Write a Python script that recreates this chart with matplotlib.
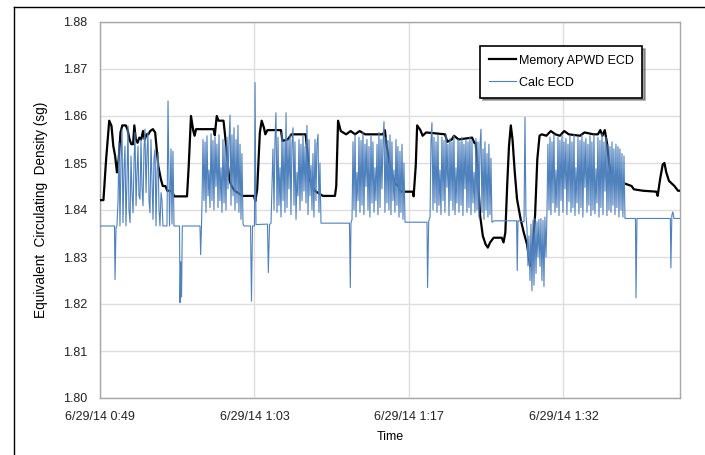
import matplotlib
matplotlib.use("Agg")
import matplotlib.pyplot as plt
import matplotlib.dates as mdates
from matplotlib.lines import Line2D
from matplotlib.ticker import FuncFormatter
import pandas as pd

# ------------------------------------------------------------------------------
# Data (time in minutes after 6/29/14 0:49:05, ECD in sg)
# ------------------------------------------------------------------------------
START = pd.Timestamp("2014-06-29 00:49:05")
TICK_STEP_MIN = 14.4
X_END_MIN = 54.06

mem_t = [0.00, 0.32, 0.57, 0.86, 1.07, 1.24, 1.41, 1.58, 1.74, 1.91, 2.08, 2.41,
         2.58, 2.75, 2.92, 3.08, 3.20, 3.34, 3.50, 3.67, 3.84, 4.01, 4.17, 4.34,
         4.51, 4.68, 4.93, 5.14, 5.26, 5.43, 5.68, 5.85, 6.10, 6.27, 6.52, 6.69,
         6.94, 8.11, 8.27, 8.48, 8.70, 8.82, 8.95, 10.59, 10.70, 10.88, 11.05,
         11.51, 11.63, 11.84, 12.05, 12.26, 12.55, 13.31, 14.35, 14.48, 14.65,
         14.90, 15.07, 15.28, 15.41, 15.61, 16.87, 17.00, 17.50, 17.84, 19.17,
         19.39, 19.60, 20.01, 20.77, 21.90, 22.02, 22.19, 22.44, 22.94, 23.36,
         23.78, 24.20, 24.71, 26.38, 26.55, 26.72, 27.06, 27.47, 27.81, 28.06,
         29.15, 29.23, 29.43, 29.56, 29.86, 30.07, 30.40, 32.16, 32.37, 32.79,
         33.00, 33.42, 34.68, 34.89, 35.01, 35.17, 35.43, 35.68, 35.94, 36.15,
         36.36, 36.69, 37.45, 37.61, 37.78, 37.95, 38.12, 38.29, 38.45, 38.66,
         38.87, 39.21, 39.50, 39.80, 40.09, 40.30, 40.55, 40.76, 40.97, 41.17,
         41.60, 42.02, 42.44, 42.86, 43.27, 43.69, 44.74, 45.16, 45.99, 46.41,
         46.63, 46.83, 47.05, 47.25, 47.46, 47.67, 48.30, 48.72, 49.55, 49.76,
         50.60, 51.86, 51.98, 52.20, 52.45, 52.61, 52.78, 53.03, 53.54, 53.87,
         54.06]
mem_ecd = [1.8421, 1.8421, 1.8508, 1.8590, 1.8579, 1.8536, 1.8515, 1.8480, 1.8508,
           1.8565, 1.8580, 1.8580, 1.8570, 1.8550, 1.8540, 1.8540, 1.8580, 1.8550,
           1.8543, 1.8554, 1.8550, 1.8568, 1.8550, 1.8561, 1.8561, 1.8568, 1.8572,
           1.8565, 1.8536, 1.8494, 1.8465, 1.8451, 1.8451, 1.8441, 1.8441, 1.8439,
           1.8429, 1.8429, 1.8494, 1.8600, 1.8568, 1.8558, 1.8572, 1.8572, 1.8559,
           1.8600, 1.8590, 1.8590, 1.8565, 1.8515, 1.8465, 1.8451, 1.8441, 1.8430,
           1.8430, 1.8419, 1.8444, 1.8565, 1.8590, 1.8575, 1.8561, 1.8570, 1.8570,
           1.8547, 1.8550, 1.8561, 1.8561, 1.8508, 1.8462, 1.8441, 1.8430, 1.8430,
           1.8451, 1.8590, 1.8568, 1.8561, 1.8568, 1.8561, 1.8568, 1.8561, 1.8561,
           1.8570, 1.8536, 1.8487, 1.8458, 1.8451, 1.8439, 1.8439, 1.8429, 1.8494,
           1.8580, 1.8570, 1.8558, 1.8565, 1.8561, 1.8545, 1.8550, 1.8558, 1.8550,
           1.8554, 1.8543, 1.8543, 1.8494, 1.8388, 1.8345, 1.8327, 1.8320, 1.8331,
           1.8341, 1.8341, 1.8331, 1.8352, 1.8451, 1.8536, 1.8580, 1.8550, 1.8480,
           1.8423, 1.8380, 1.8352, 1.8327, 1.8281, 1.8310, 1.8388, 1.8508, 1.8558,
           1.8561, 1.8558, 1.8568, 1.8561, 1.8558, 1.8568, 1.8561, 1.8558, 1.8565,
           1.8561, 1.8561, 1.8570, 1.8558, 1.8570, 1.8543, 1.8497, 1.8469, 1.8465,
           1.8458, 1.8451, 1.8444, 1.8441, 1.8439, 1.8430, 1.8465, 1.8497, 1.8500,
           1.8480, 1.8462, 1.8451, 1.8441, 1.8441]

calc_t = [0.00, 1.35, 1.40, 1.49, 1.58,
          1.68, 1.77, 1.86, 1.96, 2.05, 2.14, 2.24, 2.33, 2.42, 2.52, 2.61, 2.70,
          2.80, 2.89, 2.98, 3.08, 3.17, 3.26, 3.36, 3.45, 3.54, 3.63, 3.73, 3.82,
          3.91, 4.01, 4.10, 4.19, 4.29, 4.38, 4.47, 4.57, 4.66, 4.75, 4.85, 4.94,
          5.03, 5.13, 5.22, 5.31, 5.41, 5.50, 5.59, 5.69, 5.78, 5.87,
          6.24, 6.34, 6.48, 6.62, 6.71, 6.80, 6.90, 7.41, 7.46, 7.52, 7.60, 7.67,
          9.32, 9.38, 9.46,
          9.51, 9.60, 9.69, 9.79, 9.88, 9.97, 10.07, 10.16, 10.25, 10.35, 10.44,
          10.53, 10.62, 10.72, 10.81, 10.90, 11.00, 11.09, 11.18, 11.28, 11.37,
          11.46, 11.56, 11.65, 11.74, 11.84, 11.93, 12.02, 12.12, 12.21, 12.30,
          12.40, 12.49, 12.58, 12.68, 12.77, 12.86, 12.95, 13.05, 13.14, 13.23,
          13.33, 13.42,
          14.03, 14.12, 14.21, 14.40, 14.45, 14.54, 15.61, 15.69, 15.80,
          15.94, 16.03, 16.12, 16.22, 16.31, 16.40, 16.50, 16.59, 16.68, 16.78,
          16.87, 16.96, 17.06, 17.15, 17.24, 17.34, 17.43, 17.52, 17.61, 17.71,
          17.80, 17.89, 17.99, 18.08, 18.17, 18.27, 18.36, 18.45, 18.55, 18.64,
          18.73, 18.83, 18.92, 19.01, 19.11, 19.20, 19.29, 19.39, 19.48, 19.57,
          19.67, 19.76, 19.85, 19.94, 20.04, 20.13, 20.22, 20.32, 20.41, 20.50,
          20.60,
          23.25, 23.33, 23.39,
          23.49, 23.58, 23.67, 23.77, 23.86, 23.95, 24.05, 24.14, 24.23, 24.33,
          24.42, 24.51, 24.60, 24.70, 24.79, 24.88, 24.98, 25.07, 25.16, 25.26,
          25.35, 25.44, 25.54, 25.63, 25.72, 25.82, 25.91, 26.00, 26.10, 26.19,
          26.28, 26.38, 26.47, 26.56, 26.66, 26.75, 26.84, 26.93, 27.03, 27.12,
          27.21, 27.31, 27.40, 27.49, 27.59, 27.68, 27.77, 27.87, 27.96, 28.05,
          28.15, 28.24, 28.33, 28.43,
          30.48, 30.53, 30.64,
          30.76, 30.85, 30.94, 31.04, 31.13, 31.22, 31.32, 31.41, 31.50, 31.59,
          31.69, 31.78, 31.87, 31.97, 32.06, 32.15, 32.25, 32.34, 32.43, 32.53,
          32.62, 32.71, 32.81, 32.90, 32.99, 33.09, 33.18, 33.27, 33.37, 33.46,
          33.55, 33.65, 33.74, 33.83, 33.92, 34.02, 34.11, 34.20, 34.30, 34.39,
          34.48, 34.58, 34.67, 34.76, 34.86, 34.95, 35.04, 35.14, 35.23, 35.32,
          35.42, 35.51, 35.60, 35.70, 35.79, 35.88, 35.98, 36.07, 36.16, 36.25,
          36.35, 36.44, 36.53, 36.72,
          38.83, 38.89, 38.96, 39.52, 39.61, 39.70, 39.80, 39.89, 39.98, 40.08,
          40.17, 40.26, 40.36, 40.45, 40.54, 40.64, 40.73, 40.82, 40.91, 41.01,
          41.10, 41.19, 41.29, 41.38, 41.47, 41.57, 41.66,
          41.75, 41.85, 41.94, 42.03, 42.13, 42.22, 42.31, 42.41, 42.50, 42.59,
          42.69, 42.78, 42.87, 42.97, 43.06, 43.15, 43.24, 43.34, 43.43, 43.52,
          43.62, 43.71, 43.80, 43.90, 43.99, 44.08, 44.18, 44.27, 44.36, 44.46,
          44.55, 44.64, 44.74, 44.83, 44.92, 45.01, 45.11, 45.20, 45.29, 45.39,
          45.48, 45.57, 45.67, 45.76, 45.85, 45.95, 46.04, 46.13, 46.23, 46.32,
          46.41, 46.51, 46.60, 46.69, 46.79, 46.88, 46.97, 47.07, 47.16, 47.25,
          47.35, 47.44, 47.53, 47.63, 47.72, 47.81, 47.90, 48.00, 48.09, 48.18,
          48.28, 48.37, 48.46, 48.56, 48.65, 48.74, 48.84, 48.93,
          49.91, 49.96, 50.05, 53.16, 53.21, 53.30, 53.40, 53.49, 54.06]
calc_ecd = [1.8366, 1.8366, 1.8252, 1.8362, 1.8366,
            1.8420, 1.8543, 1.8366, 1.8510, 1.8572, 1.8373, 1.8490, 1.8536, 1.8366,
            1.8470, 1.8579, 1.8400, 1.8373, 1.8515, 1.8440, 1.8394, 1.8500, 1.8565,
            1.8409, 1.8480, 1.8536, 1.8430, 1.8423, 1.8550, 1.8450, 1.8409, 1.8530,
            1.8572, 1.8437, 1.8520, 1.8565, 1.8420, 1.8394, 1.8550, 1.8460, 1.8380,
            1.8510, 1.8529, 1.8366, 1.8480, 1.8522, 1.8400, 1.8366, 1.8437, 1.8420,
            1.8366,
            1.8366, 1.8632, 1.8366, 1.8530, 1.8370, 1.8525, 1.8366, 1.8366, 1.8203,
            1.8290, 1.8215, 1.8366,
            1.8366, 1.8305, 1.8366,
            1.8420, 1.8550, 1.8420, 1.8545, 1.8395, 1.8558, 1.8430, 1.8485, 1.8405,
            1.8562, 1.8420, 1.8548, 1.8400, 1.8555, 1.8450, 1.8540, 1.8405, 1.8560,
            1.8420, 1.8490, 1.8395, 1.8550, 1.8415, 1.8538, 1.8400, 1.8555, 1.8445,
            1.8545, 1.8602, 1.8410, 1.8560, 1.8430, 1.8575, 1.8400, 1.8550, 1.8415,
            1.8580, 1.8395, 1.8540, 1.8380, 1.8520, 1.8370, 1.8366,
            1.8366, 1.8206, 1.8366, 1.8366, 1.8671, 1.8369, 1.8370, 1.8267, 1.8369,
            1.8372, 1.8450, 1.8530, 1.8400, 1.8550, 1.8607, 1.8395, 1.8555, 1.8410,
            1.8490, 1.8385, 1.8565, 1.8420, 1.8545, 1.8395, 1.8607, 1.8405, 1.8550,
            1.8445, 1.8560, 1.8390, 1.8540, 1.8575, 1.8410, 1.8545, 1.8380, 1.8480,
            1.8430, 1.8550, 1.8400, 1.8540, 1.8420, 1.8560, 1.8440, 1.8535, 1.8415,
            1.8580, 1.8390, 1.8550, 1.8430, 1.8495, 1.8400, 1.8520, 1.8385, 1.8550,
            1.8420, 1.8540, 1.8561, 1.8395, 1.8500, 1.8372,
            1.8372, 1.8235, 1.8372,
            1.8380, 1.8545, 1.8400, 1.8560, 1.8385, 1.8480, 1.8420, 1.8555, 1.8395,
            1.8548, 1.8410, 1.8565, 1.8390, 1.8540, 1.8450, 1.8550, 1.8400, 1.8535,
            1.8385, 1.8558, 1.8415, 1.8545, 1.8395, 1.8490, 1.8420, 1.8540, 1.8390,
            1.8565, 1.8405, 1.8550, 1.8445, 1.8545, 1.8588, 1.8395, 1.8555, 1.8415,
            1.8548, 1.8400, 1.8560, 1.8390, 1.8545, 1.8420, 1.8485, 1.8395, 1.8550,
            1.8410, 1.8535, 1.8385, 1.8525, 1.8395, 1.8540, 1.8380, 1.8500, 1.8374,
            1.8374, 1.8235, 1.8377,
            1.8385, 1.8545, 1.8586, 1.8400, 1.8555, 1.8415, 1.8545, 1.8395, 1.8560,
            1.8410, 1.8485, 1.8390, 1.8555, 1.8420, 1.8548, 1.8395, 1.8560, 1.8448,
            1.8540, 1.8388, 1.8552, 1.8420, 1.8545, 1.8400, 1.8558, 1.8390, 1.8490,
            1.8415, 1.8550, 1.8395, 1.8545, 1.8410, 1.8555, 1.8388, 1.8540, 1.8445,
            1.8550, 1.8395, 1.8545, 1.8405, 1.8555, 1.8390, 1.8548, 1.8415, 1.8480,
            1.8395, 1.8552, 1.8400, 1.8545, 1.8385, 1.8540, 1.8572, 1.8395, 1.8530,
            1.8380, 1.8545, 1.8400, 1.8520, 1.8385, 1.8540, 1.8390, 1.8510, 1.8374,
            1.8377,
            1.8377, 1.8271, 1.8377, 1.8375, 1.8597, 1.8390, 1.8360, 1.8281, 1.8345,
            1.8250, 1.8370, 1.8228, 1.8378, 1.8240, 1.8382, 1.8265, 1.8375, 1.8300,
            1.8380, 1.8280, 1.8382, 1.8250, 1.8378, 1.8237, 1.8385, 1.8300, 1.8395,
            1.8540, 1.8400, 1.8555, 1.8390, 1.8545, 1.8415, 1.8560, 1.8395, 1.8485,
            1.8405, 1.8555, 1.8388, 1.8548, 1.8420, 1.8560, 1.8395, 1.8545, 1.8445,
            1.8552, 1.8390, 1.8540, 1.8418, 1.8558, 1.8395, 1.8545, 1.8405, 1.8560,
            1.8388, 1.8490, 1.8415, 1.8555, 1.8392, 1.8548, 1.8405, 1.8560, 1.8385,
            1.8545, 1.8448, 1.8552, 1.8395, 1.8540, 1.8410, 1.8558, 1.8388, 1.8545,
            1.8400, 1.8560, 1.8392, 1.8488, 1.8415, 1.8555, 1.8385, 1.8548, 1.8405,
            1.8562, 1.8390, 1.8545, 1.8440, 1.8555, 1.8388, 1.8540, 1.8400, 1.8535,
            1.8395, 1.8545, 1.8410, 1.8530, 1.8390, 1.8540, 1.8405, 1.8535, 1.8385,
            1.8530, 1.8400, 1.8520, 1.8385, 1.8515, 1.8382,
            1.8382, 1.8213, 1.8382, 1.8382, 1.8277, 1.8389, 1.8396, 1.8382, 1.8382]

y_ticks = [1.80, 1.81, 1.82, 1.83, 1.84, 1.85, 1.86, 1.87, 1.88]


def to_time(minutes):
    return START + pd.to_timedelta(minutes, unit="m")


def fmt_date(x, pos=None):
    d = mdates.num2date(x)
    return f"{d.month}/{d.day}/{d:%y} {d.hour}:{d:%M}"


# ------------------------------------------------------------------------------
# Plot
# ------------------------------------------------------------------------------
plt.rcParams["font.family"] = ["Liberation Sans", "DejaVu Sans"]

fig = plt.figure(figsize=(7.05, 4.55), dpi=100)
ax = fig.add_axes([100 / 705, 1 - 398 / 455, 580 / 705, 376 / 455])

ax.plot(to_time(pd.Series(mem_t)), mem_ecd, color="black", lw=1.6,
        label="Memory APWD ECD", zorder=3)
ax.plot(to_time(pd.Series(calc_t)), calc_ecd, color="#4f81bd", lw=0.8,
        label="Calc ECD", zorder=4)

ax.set_ylim(1.80, 1.88)
ax.set_yticks(y_ticks)
ax.set_yticklabels([f"{v:.2f}" for v in y_ticks])
ax.set_xlim(to_time(0.0), to_time(X_END_MIN))
ax.set_xticks([to_time(k * TICK_STEP_MIN) for k in range(4)])
ax.xaxis.set_major_formatter(FuncFormatter(fmt_date))

ax.tick_params(length=0, labelsize=9, colors="#222222")
ax.tick_params(axis="y", pad=9)
ax.tick_params(axis="x", pad=9)
ax.grid(True, color="#dedede", lw=1.0)
ax.set_axisbelow(True)
for sp in ax.spines.values():
    sp.set_color("#a6a6a6")
    sp.set_linewidth(1.0)

ax.set_ylabel("Equivalent  Circulating  Density (sg)", fontsize=9.8, labelpad=11)
ax.set_xlabel("Time", fontsize=9, labelpad=6)

leg = ax.legend(loc="upper left", bbox_to_anchor=(480 / 705, 1 - 46 / 455),
                bbox_transform=fig.transFigure, borderaxespad=0, fontsize=9,
                frameon=True, fancybox=False, shadow=True, handlelength=2.2,
                handletextpad=0.2, labelspacing=0.8, borderpad=0.7)
leg.get_frame().set_edgecolor("black")
leg.get_frame().set_linewidth(1.2)

# outer chart frame (partly cropped)
fig.add_artist(Line2D([14 / 705, 14 / 705], [0, 1 - 7 / 455], color="black",
                      lw=1.0, transform=fig.transFigure))
fig.add_artist(Line2D([14 / 705, 1], [1 - 7 / 455, 1 - 7 / 455], color="black",
                      lw=1.0, transform=fig.transFigure))

fig.savefig("out.png", dpi=100)
